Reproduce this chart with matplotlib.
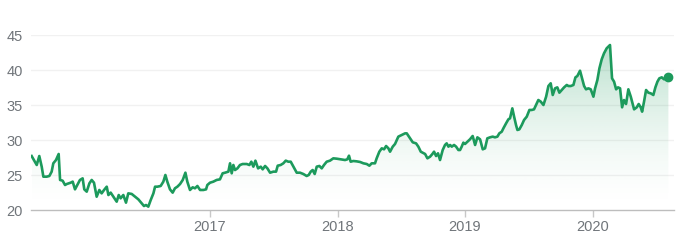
import matplotlib
matplotlib.use("Agg")
import matplotlib.pyplot as plt
import numpy as np
from matplotlib.colors import LinearSegmentedColormap

# dates as fractional years, price values
years = [
    2015.601, 2015.641, 2015.661, 2015.680, 2015.693, 2015.719, 2015.740, 2015.758, 2015.771, 2015.792,
    2015.813, 2015.824, 2015.844, 2015.863, 2015.876, 2015.907, 2015.923, 2015.941, 2015.959, 2015.980,
    2016.001, 2016.014, 2016.033, 2016.054, 2016.072, 2016.090, 2016.111, 2016.132, 2016.150, 2016.169,
    2016.190, 2016.203, 2016.221, 2016.242, 2016.268, 2016.284, 2016.299, 2016.320, 2016.341, 2016.359,
    2016.386, 2016.412, 2016.438, 2016.464, 2016.482, 2016.498, 2016.516, 2016.535, 2016.556, 2016.569,
    2016.587, 2016.613, 2016.634, 2016.650, 2016.665, 2016.686, 2016.707, 2016.725, 2016.744, 2016.765,
    2016.786, 2016.807, 2016.822, 2016.843, 2016.864, 2016.882, 2016.901, 2016.922, 2016.948, 2016.969,
    2016.979, 2017.000, 2017.026, 2017.052, 2017.078, 2017.099, 2017.118, 2017.144, 2017.157, 2017.170,
    2017.183, 2017.196, 2017.215, 2017.235, 2017.256, 2017.288, 2017.309, 2017.324, 2017.340, 2017.356,
    2017.377, 2017.398, 2017.413, 2017.432, 2017.450, 2017.471, 2017.497, 2017.518, 2017.531, 2017.554,
    2017.575, 2017.594, 2017.614, 2017.633, 2017.654, 2017.680, 2017.706, 2017.732, 2017.758, 2017.774,
    2017.790, 2017.805, 2017.821, 2017.837, 2017.858, 2017.876, 2017.894, 2017.915, 2017.941, 2017.967,
    2017.994, 2018.025, 2018.059, 2018.077, 2018.090, 2018.103, 2018.124, 2018.150, 2018.177, 2018.203,
    2018.229, 2018.250, 2018.268, 2018.294, 2018.307, 2018.328, 2018.347, 2018.365, 2018.381, 2018.399,
    2018.412, 2018.433, 2018.451, 2018.477, 2018.503, 2018.530, 2018.543, 2018.564, 2018.590, 2018.616,
    2018.634, 2018.653, 2018.668, 2018.687, 2018.705, 2018.726, 2018.744, 2018.757, 2018.773, 2018.788,
    2018.804, 2018.825, 2018.843, 2018.856, 2018.870, 2018.883, 2018.896, 2018.914, 2018.930, 2018.948,
    2018.961, 2018.974, 2018.987, 2019.000, 2019.019, 2019.039, 2019.060, 2019.079, 2019.097, 2019.118,
    2019.139, 2019.157, 2019.175, 2019.196, 2019.217, 2019.235, 2019.254, 2019.269, 2019.288, 2019.301,
    2019.322, 2019.340, 2019.353, 2019.371, 2019.385, 2019.400, 2019.411, 2019.426, 2019.445, 2019.463,
    2019.484, 2019.505, 2019.523, 2019.541, 2019.557, 2019.575, 2019.594, 2019.615, 2019.636, 2019.654,
    2019.672, 2019.688, 2019.706, 2019.724, 2019.740, 2019.758, 2019.777, 2019.798, 2019.811, 2019.829,
    2019.850, 2019.866, 2019.881, 2019.902, 2019.918, 2019.934, 2019.949, 2019.968, 2019.986, 2020.007,
    2020.020, 2020.038, 2020.054, 2020.072, 2020.090, 2020.111, 2020.137, 2020.153, 2020.169, 2020.185,
    2020.200, 2020.216, 2020.232, 2020.247, 2020.263, 2020.281, 2020.300, 2020.315, 2020.326, 2020.347,
    2020.362, 2020.378, 2020.389, 2020.404, 2020.420, 2020.438, 2020.456, 2020.477, 2020.493, 2020.509,
    2020.524, 2020.543, 2020.561, 2020.576, 2020.595,
]
prices = [
    27.71, 26.43, 27.71, 26.19, 24.76, 24.76, 24.86, 25.48, 26.67, 27.14,
    28.00, 24.29, 24.19, 23.57, 23.71, 23.90, 24.05, 22.95, 23.57, 24.29,
    24.52, 22.95, 22.62, 23.81, 24.29, 23.90, 21.90, 22.86, 22.38, 22.86,
    23.33, 22.14, 22.48, 21.90, 21.19, 22.14, 21.67, 22.14, 21.05, 22.38,
    22.29, 21.90, 21.52, 20.95, 20.57, 20.71, 20.48, 21.43, 22.38, 23.33,
    23.33, 23.43, 24.05, 25.00, 24.05, 22.95, 22.48, 23.10, 23.33, 23.71,
    24.29, 25.33, 24.05, 22.86, 23.24, 23.10, 23.43, 22.86, 22.86, 22.95,
    23.57, 23.90, 24.05, 24.29, 24.38, 25.24, 25.33, 25.48, 26.67, 25.24,
    26.43, 25.71, 25.95, 26.43, 26.57, 26.57, 26.43, 26.90, 26.19, 27.05,
    25.95, 26.19, 25.81, 26.29, 25.95, 25.33, 25.48, 25.48, 26.33, 26.43,
    26.67, 27.05, 26.90, 26.90, 26.19, 25.33, 25.33, 25.14, 24.86, 25.00,
    25.48, 25.71, 25.14, 26.19, 26.29, 25.95, 26.43, 26.90, 27.05, 27.38,
    27.33, 27.24, 27.14, 27.24, 27.76, 26.90, 27.00, 26.95, 26.86, 26.67,
    26.57, 26.33, 26.67, 26.67, 27.38, 28.33, 28.81, 28.67, 29.14, 28.81,
    28.33, 29.05, 29.43, 30.48, 30.71, 30.95, 30.95, 30.38, 29.67, 29.52,
    29.05, 28.33, 28.19, 28.00, 27.38, 27.62, 28.00, 28.33, 27.71, 28.10,
    27.14, 28.57, 29.29, 29.52, 29.05, 29.29, 29.05, 29.29, 29.05, 28.57,
    28.57, 29.05, 29.62, 29.43, 29.76, 30.10, 30.57, 29.29, 30.38, 30.10,
    28.67, 28.81, 30.24, 30.38, 30.48, 30.38, 30.48, 30.95, 31.19, 31.67,
    32.38, 32.95, 33.10, 34.52, 33.33, 32.14, 31.43, 31.52, 32.14, 32.86,
    33.33, 34.29, 34.29, 34.38, 35.00, 35.71, 35.48, 35.00, 36.19, 37.71,
    38.10, 36.43, 37.38, 37.52, 36.76, 37.14, 37.52, 37.86, 37.71, 37.71,
    37.86, 38.95, 39.14, 39.90, 38.81, 37.71, 37.24, 37.38, 37.24, 36.19,
    37.38, 38.57, 40.24, 41.52, 42.38, 43.10, 43.57, 38.81, 38.33, 37.24,
    37.52, 37.38, 34.67, 35.71, 35.14, 37.24, 36.19, 35.14, 34.38, 34.67,
    35.14, 34.67, 34.05, 35.48, 37.14, 36.76, 36.67, 36.43, 37.52, 38.33,
    38.81, 38.95, 38.67, 38.95, 39.05,
]
y_ticks = [20, 25, 30, 35, 40, 45]
x_ticks = [2017, 2018, 2019, 2020]
x_labels = ["2017", "2018", "2019", "2020"]

green = "#1c9a5c"
grey = "#70757a"

plt.rcParams["font.family"] = ["Liberation Sans", "DejaVu Sans"]

fig = plt.figure(figsize=(6.9, 2.49), dpi=100)
ax = fig.add_axes([31 / 690, 1 - 210 / 249, (674 - 31) / 690, (210 - 35) / 249])

x = np.array(years)
y = np.array(prices)

ax.set_xlim(2015.596, 2020.639)
ax.set_ylim(20, 45)

# gradient fill under the line, clipped to the area polygon
t = np.linspace(0, 1, 256)
cmap = LinearSegmentedColormap.from_list(
    "fade", [(0.11, 0.60, 0.36, 0.30 * v ** 1.6) for v in t])
grad = t.reshape(-1, 1)
img = ax.imshow(grad, cmap=cmap, origin="lower", aspect="auto",
                extent=[x.min(), x.max(), 20, y.max()], zorder=1)
poly = ax.fill_between(x, y, 20, color="none", lw=0)
clip = poly.get_paths()[0]
img.set_clip_path(clip, transform=ax.transData)

ax.plot(x, y, color=green, lw=1.9, zorder=3)
ax.plot(x[-1], y[-1], "o", color=green, ms=6, zorder=4)

for v in y_ticks[1:]:
    ax.axhline(v, color="#f1f1f1", lw=1, zorder=0)

ax.set_yticks(y_ticks)
ax.set_xticks(x_ticks)
ax.set_xticklabels(x_labels)
ax.tick_params(axis="y", length=0, pad=6, labelsize=10.5, labelcolor=grey)
ax.tick_params(axis="x", length=5, width=1, color="#c8c8c8", pad=2, labelsize=10.5, labelcolor=grey)

for s in ["top", "right", "left"]:
    ax.spines[s].set_visible(False)
ax.spines["bottom"].set_color("#bdbdbd")
ax.spines["bottom"].set_linewidth(1)

fig.savefig("out.png", dpi=100)
